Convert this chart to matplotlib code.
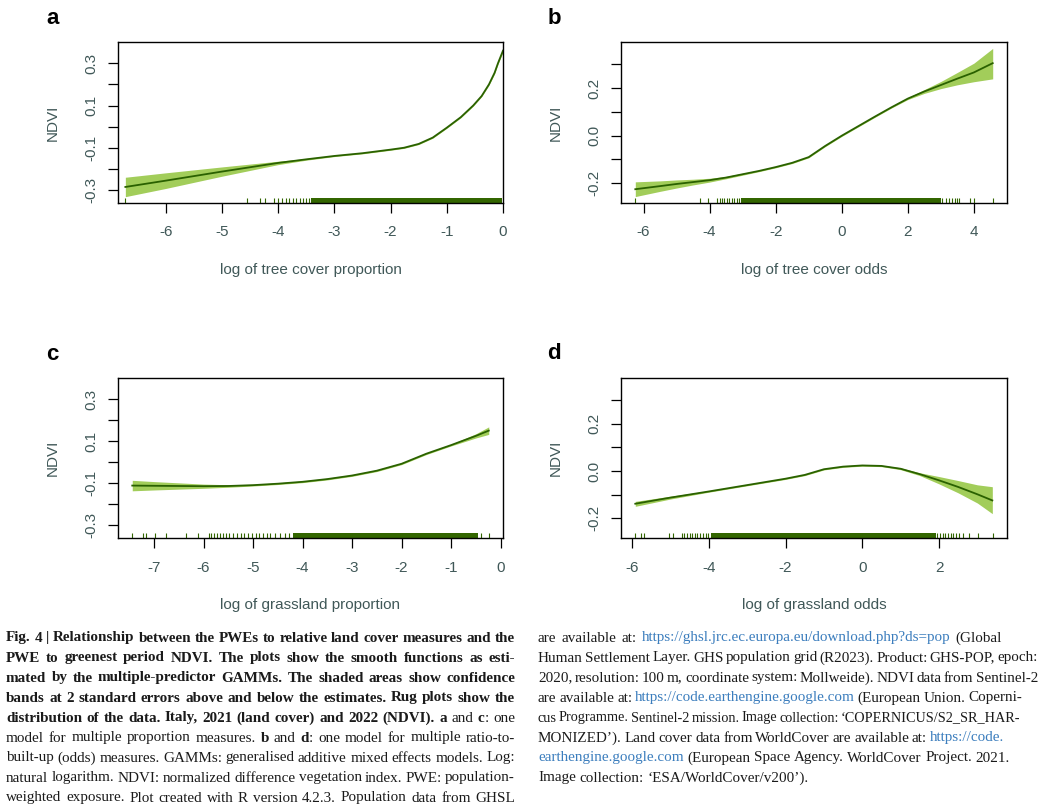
import matplotlib
matplotlib.use("Agg")
import matplotlib.pyplot as plt

W, H = 1063, 811

# ---- data ----
# a: log of tree cover proportion
a_x = [-6.72, -6.0, -5.0, -4.0, -3.5, -3.0, -2.5, -2.0, -1.76, -1.5, -1.25, -1.0,
       -0.75, -0.53, -0.38, -0.25, -0.15, -0.09, 0.0]
a_fit = [-0.286, -0.256, -0.213, -0.172, -0.155, -0.139, -0.126, -0.109, -0.100, -0.082,
         -0.052, -0.005, 0.045, 0.100, 0.145, 0.200, 0.255, 0.300, 0.360]
a_lo = [-0.332, -0.293, -0.235, -0.180, -0.159, -0.142, -0.129, -0.112, -0.103, -0.085,
        -0.055, -0.008, 0.042, 0.097, 0.142, 0.196, 0.250, 0.295, 0.354]
a_hi = [-0.240, -0.219, -0.191, -0.164, -0.151, -0.136, -0.123, -0.106, -0.097, -0.079,
        -0.049, -0.002, 0.048, 0.103, 0.148, 0.204, 0.260, 0.305, 0.366]
a_rug = [-6.72, -4.56, -4.33, -4.23, -4.08, -4.00, -3.93, -3.86, -3.80, -3.74, -3.68,
         -3.62, -3.56, -3.50, -3.45]
a_dense = (-3.42, -0.02)

# b: log of tree cover odds
b_x = [-6.25, -5.5, -5.0, -4.5, -4.0, -3.5, -3.0, -2.5, -2.0, -1.5, -1.0, -0.5, 0.0,
       0.5, 1.0, 1.5, 2.0, 2.5, 3.0, 3.5, 4.0, 4.57]
b_fit = [-0.225, -0.212, -0.203, -0.195, -0.187, -0.176, -0.162, -0.148, -0.132, -0.114,
         -0.090, -0.043, 0.0, 0.040, 0.080, 0.119, 0.156, 0.186, 0.213, 0.240, 0.266, 0.305]
b_lo = [-0.256, -0.234, -0.220, -0.207, -0.195, -0.181, -0.166, -0.151, -0.135, -0.117,
        -0.093, -0.046, -0.003, 0.037, 0.077, 0.116, 0.152, 0.178, 0.198, 0.214, 0.227, 0.239]
b_hi = [-0.194, -0.190, -0.186, -0.183, -0.179, -0.171, -0.158, -0.145, -0.129, -0.111,
        -0.087, -0.040, 0.003, 0.043, 0.083, 0.122, 0.160, 0.194, 0.228, 0.266, 0.305, 0.367]
b_rug = [-6.25, -4.28, -4.06, -3.78, -3.70, -3.63, -3.56, -3.48, -3.40, -3.33, -3.25,
         -3.18, -3.10, 3.05, 3.15, 3.25, 3.35, 3.42, 3.50, 3.55, 3.89, 4.01, 4.57]
b_dense = (-3.05, 3.0)

# c: log of grassland proportion
c_x = [-7.44, -7.0, -6.5, -6.0, -5.5, -5.0, -4.5, -4.0, -3.5, -3.0, -2.5, -2.0, -1.5,
       -1.0, -0.5, -0.24]
c_fit = [-0.112, -0.113, -0.114, -0.115, -0.114, -0.110, -0.103, -0.094, -0.081, -0.064,
         -0.041, -0.008, 0.040, 0.081, 0.125, 0.150]
c_lo = [-0.137, -0.133, -0.129, -0.125, -0.120, -0.114, -0.107, -0.098, -0.085, -0.068,
        -0.045, -0.012, 0.036, 0.077, 0.115, 0.132]
c_hi = [-0.087, -0.093, -0.099, -0.105, -0.108, -0.106, -0.099, -0.090, -0.077, -0.060,
        -0.037, -0.004, 0.044, 0.085, 0.135, 0.168]
c_rug = [-7.44, -7.22, -7.17, -6.99, -6.75, -6.35, -6.12, -5.89, -5.85, -5.79, -5.72,
         -5.66, -5.60, -5.54, -5.48, -5.40, -5.33, -5.25, -5.18, -5.10, -5.02, -4.95,
         -4.88, -4.80, -4.72, -4.65, -4.55, -4.45, -4.35, -4.28, -0.40, -0.24]
c_dense = (-4.2, -0.45)

# d: log of grassland odds
d_x = [-5.92, -5.0, -4.0, -3.0, -2.0, -1.5, -1.0, -0.5, 0.0, 0.5, 1.0, 1.5, 2.0, 2.5,
       3.0, 3.39]
d_fit = [-0.138, -0.112, -0.086, -0.059, -0.032, -0.016, 0.008, 0.019, 0.024, 0.022,
         0.010, -0.013, -0.039, -0.067, -0.098, -0.124]
d_lo = [-0.149, -0.118, -0.089, -0.062, -0.035, -0.019, 0.005, 0.016, 0.021, 0.019,
        0.006, -0.019, -0.054, -0.092, -0.135, -0.180]
d_hi = [-0.128, -0.106, -0.083, -0.056, -0.029, -0.013, 0.011, 0.022, 0.027, 0.025,
        0.014, -0.007, -0.023, -0.040, -0.058, -0.066]
d_rug = [-5.92, -5.77, -5.70, -5.03, -4.93, -4.71, -4.64, -4.57, -4.50, -4.43, -4.37,
         -4.30, -4.22, -4.15, -4.08, -4.02, 1.95, 2.02, 2.10, 2.16, 2.23, 2.30, 2.37,
         2.45, 2.52, 2.62, 2.78, 3.02, 3.40]
d_dense = (-3.95, 1.92)

letters = ["a", "b", "c", "d"]
xlabels = ["log of tree cover proportion", "log of tree cover odds",
           "log of grassland proportion", "log of grassland odds"]
xticks = [[-6, -5, -4, -3, -2, -1, 0], [-6, -4, -2, 0, 2, 4],
          [-7, -6, -5, -4, -3, -2, -1, 0], [-6, -4, -2, 0, 2]]
yticks_prop = [-0.3, -0.2, -0.1, 0.0, 0.1, 0.2, 0.3]
ylabels_prop = ["-0.3", "", "-0.1", "", "0.1", "", "0.3"]
yticks_odds = [-0.2, -0.1, 0.0, 0.1, 0.2, 0.3]
ylabels_odds = ["-0.2", "", "0.0", "", "0.2", ""]

BAND = "#a2cd5a"
LINE = "#2a6100"
RUG = "#336600"
AXTXT = "#405858"

plt.rcParams["axes.unicode_minus"] = False
plt.rcParams["font.family"] = ["Liberation Sans", "DejaVu Sans"]

fig = plt.figure(figsize=(W / 100, H / 100), dpi=100)


def px_axes(left, top, right, bottom):
    return fig.add_axes([left / W, 1 - bottom / H, (right - left) / W, (bottom - top) / H])


boxes = [(118, 42, 503, 203), (621, 42, 1007, 203), (118, 378, 503, 538), (621, 378, 1007, 538)]
panels = [(a_x, a_fit, a_lo, a_hi, a_rug, a_dense),
          (b_x, b_fit, b_lo, b_hi, b_rug, b_dense),
          (c_x, c_fit, c_lo, c_hi, c_rug, c_dense),
          (d_x, d_fit, d_lo, d_hi, d_rug, d_dense)]
letter_pos = [(53, 19), (554, 19), (52, 355), (554, 354)]

for i, (x, fit, lo, hi, rug, dense) in enumerate(panels):
    l, t, r, b = boxes[i]
    ax = px_axes(l, t, r, b)
    ax.fill_between(x, lo, hi, color=BAND, lw=0)
    ax.plot(x, fit, color=LINE, lw=1.3)
    xt = ax.get_xaxis_transform()
    ax.vlines(rug, 0, 0.03, transform=xt, color=RUG, lw=0.8)
    ax.axvspan(dense[0], dense[1], ymin=0, ymax=0.03, color=RUG, lw=0)

    # R-style 4% padding around the data range
    span = max(rug) - min(rug)
    ax.set_xlim(min(rug) - 0.04 * span, max(rug) + 0.04 * span)
    if i in (0, 2):
        ax.set_ylim(-0.362, 0.401)
        ax.set_yticks(yticks_prop)
        ax.set_yticklabels(ylabels_prop)
    else:
        ax.set_ylim(-0.283, 0.394)
        ax.set_yticks(yticks_odds)
        ax.set_yticklabels(ylabels_odds)
    ax.set_xticks(xticks[i])
    ax.set_xticklabels([str(v) for v in xticks[i]])

    ax.tick_params(direction="out", length=7.2, width=0.9, color="black",
                   labelcolor=AXTXT, labelsize=11)
    ax.tick_params(axis="x", pad=9)
    ax.tick_params(axis="y", pad=7, labelrotation=90)
    for lbl in ax.get_yticklabels():
        lbl.set_va("center")
    for s in ax.spines.values():
        s.set_linewidth(1.0)
        s.set_color("black")

    ax.text(0.5, -67 / 161, xlabels[i], transform=ax.transAxes, ha="center", va="center",
            fontsize=11, color=AXTXT)
    ax.text(-65 / (r - l), 0.5, "NDVI", transform=ax.transAxes, ha="center", va="center",
            rotation=90, fontsize=11, color=AXTXT)
    fig.text(letter_pos[i][0] / W, 1 - letter_pos[i][1] / H, letters[i], fontsize=16,
             fontweight="bold", ha="center", va="center", color="black")

# ---- caption ----
CAP_FONT = ["Liberation Serif", "DejaVu Serif"]
CAP_TXT = "#1a1a1a"
LINK = "#3b7dbd"
CAP_SIZE = 10.9

left_col = [
    [("Fig. 4 | Relationship between the PWEs to relative land cover measures and the", "b")],
    [("PWE to greenest period NDVI. The plots show the smooth functions as esti-", "b")],
    [("mated by the multiple-predictor GAMMs. The shaded areas show confidence", "b")],
    [("bands at 2 standard errors above and below the estimates. Rug plots show the", "b")],
    [("distribution of the data. Italy, 2021 (land cover) and 2022 (NDVI). ", "b"), ("a", "b"),
     (" and ", "n"), ("c", "b"), (": one", "n")],
    [("model for multiple proportion measures. ", "n"), ("b", "b"), (" and ", "n"), ("d", "b"),
     (": one model for multiple ratio-to-", "n")],
    [("built-up (odds) measures. GAMMs: generalised additive mixed effects models. Log:", "n")],
    [("natural logarithm. NDVI: normalized difference vegetation index. PWE: population-", "n")],
    [("weighted exposure. Plot created with R version 4.2.3. Population data from GHSL", "n")],
]
right_col = [
    [("are available at: ", "n"), ("https://ghsl.jrc.ec.europa.eu/download.php?ds=pop", "l"),
     (" (Global", "n")],
    [("Human Settlement Layer. GHS population grid (R2023). Product: GHS-POP, epoch:", "n")],
    [("2020, resolution: 100 m, coordinate system: Mollweide). NDVI data from Sentinel-2", "n")],
    [("are available at: ", "n"), ("https://code.earthengine.google.com", "l"),
     (" (European Union. Coperni-", "n")],
    [("cus Programme. Sentinel-2 mission. Image collection: \u2018COPERNICUS/S2_SR_HAR-", "n")],
    [("MONIZED\u2019). Land cover data from WorldCover are available at: ", "n"),
     ("https://code.", "l")],
    [("earthengine.google.com", "l"), (" (European Space Agency. WorldCover Project. 2021.", "n")],
    [("Image collection: \u2018ESA/WorldCover/v200\u2019).", "n")],
]
left_ends = [515] * 9
right_ends = [1002, 1038, 1038, 1022, 1020, 1004, 1010, None]

renderer = fig.canvas.get_renderer()


def caption_line(x0, y, segs, x1):
    words, cur = [], []
    for txt, st in segs:
        parts = txt.split(" ")
        for k, p in enumerate(parts):
            if k > 0 and cur:
                words.append(cur)
                cur = []
            if p:
                cur.append((p, st))
    if cur:
        words.append(cur)
    items = []
    for w in words:
        objs = []
        for p, st in w:
            objs.append(fig.text(0, 0, p, fontsize=CAP_SIZE, family=CAP_FONT,
                                 fontweight="bold" if st == "b" else "normal",
                                 color=LINK if st == "l" else CAP_TXT,
                                 ha="left", va="baseline"))
        items.append(objs)

    def measure():
        return [[o.get_window_extent(renderer).width for o in objs] for objs in items]

    widths = measure()
    total = sum(sum(w) for w in widths)
    space = 0.25 * CAP_SIZE * 100 / 72
    n_gaps = max(len(items) - 1, 1)
    if x1 is not None:
        tight = total + n_gaps * 0.5 * space
        if tight > x1 - x0:
            # only shrink a line that cannot fit even with tight spacing
            f = (x1 - x0) / tight
            for objs in items:
                for o in objs:
                    o.set_fontsize(CAP_SIZE * f)
            widths = measure()
            total = sum(sum(w) for w in widths)
        gap = (x1 - x0 - total) / n_gaps
    else:
        gap = space
    x = x0
    for objs, ws in zip(items, widths):
        for o, w in zip(objs, ws):
            o.set_position((x / W, 1 - y / H))
            x += w
        x += gap


for k, segs in enumerate(left_col):
    caption_line(6, 641.5 + 20 * k, segs, left_ends[k])
for k, segs in enumerate(right_col):
    caption_line(538, 641.5 + 20 * k, segs, right_ends[k])

fig.savefig("out.png", dpi=100)
